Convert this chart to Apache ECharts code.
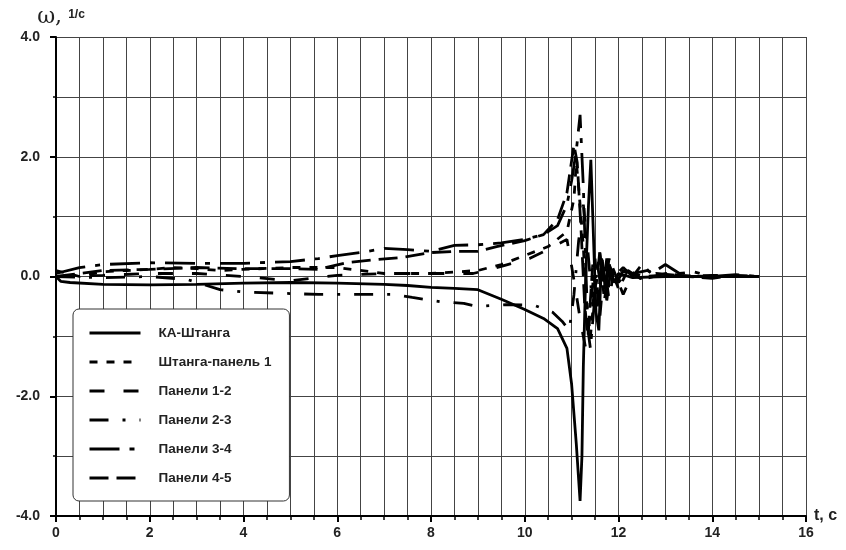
<!DOCTYPE html>
<html>
<head>
<meta charset="utf-8">
<script src="https://cdn.jsdelivr.net/npm/echarts@6/dist/echarts.min.js"></script>
<style>
  html, body { margin: 0; padding: 0; background: #fff; }
  #chart { width: 846px; height: 550px; }
</style>
</head>
<body>
<div id="chart"></div>
<script>
// названия кривых
const seriesNames = ['КА-Штанга', 'Штанга-панель 1', 'Панели 1-2', 'Панели 2-3', 'Панели 3-4', 'Панели 4-5'];

// [t, ω]
const kaShtanga = [
  [0, 0.0], [0.1, -0.08], [0.3, -0.1], [1, -0.13], [2, -0.14], [3, -0.13], [4, -0.11],
  [5, -0.1], [6, -0.11], [7, -0.13], [7.5, -0.15], [8, -0.18], [8.5, -0.2], [9, -0.22],
  [9.5, -0.38], [10, -0.55], [10.4, -0.7], [10.7, -0.87], [10.9, -1.2], [11.0, -1.8],
  [11.1, -2.8], [11.18, -3.75], [11.22, -3.0], [11.25, -1.5], [11.3, 0.0], [11.36, 1.2],
  [11.41, 1.95], [11.46, 0.8], [11.52, -0.6], [11.58, -0.9], [11.64, 0.3], [11.72, -0.2],
  [11.8, 0.2], [11.9, -0.1], [12.0, 0.05], [12.3, -0.02], [13, 0.0], [14, 0.0], [15, 0.0]
];
const shtangaPanel1 = [
  [0, 0.1], [0.5, 0.0], [1, 0.08], [1.5, 0.1], [2, 0.12], [2.5, 0.15], [3, 0.13], [3.5, 0.1],
  [4, 0.12], [5, 0.15], [6, 0.15], [7, 0.05], [8, 0.05], [9, 0.1], [9.5, 0.2], [10, 0.35],
  [10.5, 0.5], [10.9, 0.75], [11.05, 1.3], [11.1, 1.9], [11.15, 1.5], [11.25, 0.5], [11.3, -0.3],
  [11.4, -1.0], [11.5, -0.2], [11.6, 0.4], [11.7, -0.4], [11.8, 0.2], [12, -0.2], [12.2, 0.1],
  [12.5, 0.0], [13, 0.02], [14, 0.0], [15, 0.0]
];
const paneli12 = [
  [0, 0.0], [1, 0.02], [2, 0.05], [3, 0.05], [4, 0.0], [5, -0.07], [6, 0.02], [7, 0.05],
  [8, 0.05], [8.9, 0.05], [9.5, 0.17], [10.1, 0.3], [10.5, 0.45], [10.9, 0.62], [11.0, 0.17],
  [11.1, -0.3], [11.2, -0.8], [11.3, -1.2], [11.4, -0.6], [11.5, 0.3], [11.6, -0.7], [11.7, 0.2],
  [11.8, -0.4], [11.9, 0.1], [12.1, -0.3], [12.3, 0.05], [12.6, 0.1], [13, 0.0], [14, 0.02], [15, 0.0]
];
const paneli23 = [
  [0, 0.0], [1, -0.02], [2, 0.0], [2.8, -0.05], [3.5, -0.22], [4, -0.26], [4.8, -0.28],
  [5.6, -0.3], [6.4, -0.3], [7.2, -0.3], [7.6, -0.35], [8.2, -0.42], [8.7, -0.45], [9.0, -0.5],
  [9.6, -0.47], [10.2, -0.48], [10.6, -0.6], [10.8, -0.75], [10.95, -0.9], [11.05, -0.3],
  [11.15, 0.6], [11.25, 1.2], [11.35, 0.4], [11.45, -0.5], [11.55, 0.2], [11.65, -0.3],
  [11.75, 0.3], [11.9, -0.2], [12.1, 0.1], [12.4, -0.05], [12.8, 0.05], [13.5, 0.0], [15, 0.0]
];
const paneli34 = [
  [0, 0.05], [0.5, 0.15], [1, 0.2], [2, 0.23], [3, 0.22], [4, 0.22], [5, 0.25], [5.6, 0.3],
  [6, 0.35], [6.5, 0.4], [7, 0.47], [7.5, 0.45], [8, 0.42], [8.5, 0.52], [9, 0.53], [9.5, 0.56],
  [10, 0.62], [10.4, 0.7], [10.7, 0.85], [10.9, 1.2], [11.0, 1.6], [11.1, 2.1], [11.18, 2.7],
  [11.25, 1.5], [11.3, 0.2], [11.35, -0.9], [11.4, -1.2], [11.5, -0.3], [11.6, 0.4], [11.7, -0.2],
  [11.8, 0.3], [11.9, 0.0], [12.1, 0.15], [12.3, 0.0], [12.5, 0.2], [12.7, 0.05], [13, 0.2],
  [13.3, 0.05], [13.6, 0.08], [14, 0.0], [14.5, 0.03], [15, 0.0]
];
const paneli45 = [
  [0, 0.0], [0.5, 0.05], [1, 0.1], [2, 0.12], [3, 0.15], [4, 0.13], [5, 0.13], [5.6, 0.12],
  [6.2, 0.23], [6.8, 0.28], [7.4, 0.32], [8, 0.4], [8.5, 0.42], [9, 0.42], [9.4, 0.5], [9.7, 0.55],
  [10, 0.6], [10.4, 0.7], [10.7, 0.95], [10.9, 1.4], [11.05, 2.2], [11.12, 1.9], [11.2, 0.8],
  [11.28, -0.5], [11.35, -1.0], [11.45, 0.2], [11.55, -0.5], [11.65, 0.3], [11.75, -0.4],
  [11.85, 0.2], [12, -0.1], [12.2, 0.1], [12.5, -0.05], [13, 0.05], [13.5, 0.0], [14, -0.03],
  [14.5, 0.02], [15, 0.0]
];

const seriesData = [kaShtanga, shtangaPanel1, paneli12, paneli23, paneli34, paneli45];
const dashTypes = ['solid', [8, 9], [15, 19], [19, 14, 3, 14], [30, 10, 5, 10], [19, 8]];

const chart = echarts.init(document.getElementById('chart'));

const gridColor = '#444';
const labelFont = { color: '#222', fontWeight: 'bold', fontFamily: 'Liberation Sans, Arial, sans-serif' };

const option = {
  animation: false,
  backgroundColor: '#fff',
  grid: { left: 56, right: 40, top: 37, bottom: 34 },
  legend: {
    orient: 'vertical',
    left: 73,
    top: 309,
    padding: [17, 18, 16, 15],
    itemGap: 15,
    itemWidth: 51,
    itemHeight: 13,
    backgroundColor: '#fff',
    borderColor: '#333',
    borderWidth: 1,
    borderRadius: 6,
    itemStyle: { opacity: 0 },
    lineStyle: { width: 3 },
    textStyle: Object.assign({ fontSize: 13.5, padding: [0, 0, 0, 13] }, labelFont),
    data: seriesNames
  },
  xAxis: {
    type: 'value',
    min: 0,
    max: 16,
    interval: 2,
    name: 't, c',
    nameLocation: 'end',
    nameGap: 8,
    nameTextStyle: Object.assign({ fontSize: 16, padding: [12, 0, 0, 0] }, labelFont),
    axisLine: { onZero: false, lineStyle: { color: '#000', width: 2 } },
    axisTick: { length: 6, lineStyle: { color: '#000', width: 2 } },
    minorTick: { show: true, splitNumber: 4, length: 4, lineStyle: { color: '#000', width: 1.5 } },
    splitLine: { lineStyle: { color: gridColor, width: 1 } },
    minorSplitLine: { show: true, lineStyle: { color: gridColor, width: 1 } },
    axisLabel: Object.assign({ fontSize: 14, margin: 10 }, labelFont)
  },
  yAxis: {
    type: 'value',
    min: -4,
    max: 4,
    interval: 2,
    name: '{w|ω,} {u|1/с}',
    nameLocation: 'end',
    nameGap: 9,
    nameTextStyle: {
      fontSize: 22,
      color: '#222',
      padding: [0, 0, 0, 10],
      rich: {
        w: { fontSize: 22, color: '#222', fontFamily: 'DejaVu Serif, Liberation Serif, serif' },
        u: { fontSize: 12, color: '#222', fontWeight: 'bold', fontFamily: 'Liberation Sans, Arial, sans-serif', padding: [0, 0, 4, 0] }
      }
    },
    axisLine: { onZero: false, lineStyle: { color: '#000', width: 2 } },
    axisTick: { length: 6, lineStyle: { color: '#000', width: 2 } },
    minorTick: { show: true, splitNumber: 2, length: 3, lineStyle: { color: '#000', width: 1.5 } },
    splitLine: { lineStyle: { color: gridColor, width: 1 } },
    minorSplitLine: { show: true, lineStyle: { color: gridColor, width: 1 } },
    axisLabel: Object.assign({
      fontSize: 14,
      margin: 16,
      formatter: v => v.toFixed(1)
    }, labelFont)
  },
  series: seriesNames.map((name, i) => ({
    name: name,
    type: 'line',
    symbol: 'none',
    data: seriesData[i],
    lineStyle: { color: '#000', width: 2.8, type: dashTypes[i] },
    itemStyle: { color: '#000' },
    z: 10 - i
  }))
};

chart.setOption(option);
</script>
</body>
</html>
